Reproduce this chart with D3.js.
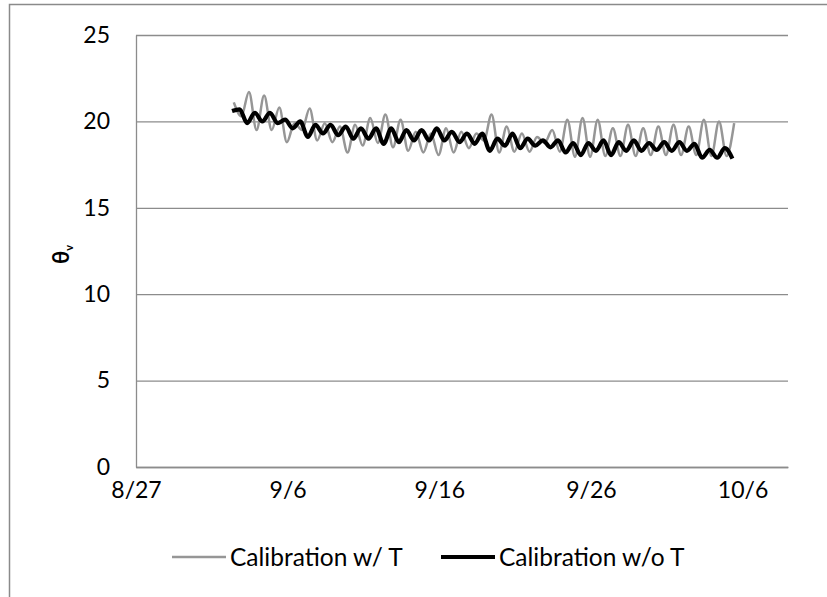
<!DOCTYPE html>
<html><head><meta charset="utf-8">
<script src="https://cdn.jsdelivr.net/npm/d3@7"></script>
<style>
body{margin:0;background:#fff;}
svg{display:block;}
text{font-family:Lato,"Noto Sans",sans-serif;fill:#000;}
</style>
</head><body>
<svg id="c" width="827" height="597"></svg>
<script>
// ---- data ----
const year = 2011;
const xTickLabels = ["8/27", "9/6", "9/16", "9/26", "10/6"];
const xAxisEnd = "10/9";
const yTicks = [0, 5, 10, 15, 20, 25];
const seriesNames = ["Calibration w/ T", "Calibration w/o T"];
// samples every 12 hours (alternating daily highs / lows)
const stepHours = 12;
const grayStart = "9/2 10:48";
const grayValues = [
  21.1, 20.3, 21.7, 19.5, 21.5, 19.5, 20.8, 18.8, 19.9, 19.5,
  20.75, 18.9, 19.9, 18.8, 19.7, 18.2, 19.8, 18.6, 20.2, 18.75,
  20.4, 18.5, 20.1, 18.3, 19.4, 18.2, 19.3, 18.05, 19.6, 18.2,
  19.4, 18.45, 19.3, 18.9, 20.4, 18.2, 19.7, 18.25, 19.3, 18.25,
  19.1, 18.75, 19.5, 18.25, 20.1, 17.95, 20.2, 17.95, 20.1, 18.0,
  19.6, 18.0, 19.8, 18.0, 19.6, 18.05, 19.7, 18.05, 19.8, 18.05,
  19.7, 18.05, 20.1, 18.0, 20.0, 18.0, 19.9
];
const blackStart = "9/2 08:00";
const blackValues = [
  20.6, 20.7, 19.9, 20.5, 20.0, 20.5, 19.9, 20.1, 19.6, 20.0,
  19.1, 19.8, 19.3, 19.8, 19.2, 19.7, 19.0, 19.6, 19.0, 19.6,
  18.7, 19.6, 18.8, 19.5, 18.9, 19.5, 18.9, 19.6, 18.9, 19.4,
  18.8, 19.3, 18.7, 19.3, 18.3, 19.0, 18.6, 19.3, 18.45, 19.0,
  18.6, 18.9, 18.5, 18.9, 18.2, 18.75, 18.05, 18.75, 18.3, 18.9,
  18.05, 18.8, 18.3, 18.9, 18.3, 18.75, 18.35, 18.8, 18.3, 18.8,
  18.3, 18.7, 17.9, 18.35, 17.9, 18.45, 17.85
];

// ---- chart ----
const parseDay = d3.timeParse("%Y/%m/%d");
const parseTime = d3.timeParse("%Y/%m/%d %H:%M");
const toDate = s => parseDay(year + "/" + s);
const toSeries = (start, vals) => {
  const t0 = parseTime(year + "/" + start);
  return vals.map((v, i) => ({ t: d3.timeHour.offset(t0, i * stepHours), v }));
};
const grayData = toSeries(grayStart, grayValues);
const blackData = toSeries(blackStart, blackValues);

const svg = d3.select("#c");
const L = 136, R = 788, T = 35, B = 467;
const gridColor = "#8c8c8c";

// outer chart border
svg.append("rect").attr("x", 9.5).attr("y", 4.5).attr("width", 840).attr("height", 620)
  .attr("fill", "none").attr("stroke", "#8a8a8a").attr("stroke-width", 1.5);

const x = d3.scaleTime().domain([toDate(xTickLabels[0]), toDate(xAxisEnd)]).range([L, R]);
const y = d3.scaleLinear().domain([0, 25]).range([B, T]);

// y axis + gridlines
const gy = svg.append("g").attr("transform", `translate(${L},0)`)
  .call(d3.axisLeft(y).tickValues(yTicks).tickSizeInner(-(R - L)).tickSizeOuter(0).tickPadding(26));
gy.selectAll(".tick line").attr("stroke", gridColor).attr("stroke-width", 1.3);
gy.select(".domain").attr("stroke", gridColor).attr("stroke-width", 1.3);
gy.selectAll(".tick text").attr("font-size", 23).attr("font-family", "Lato").attr("fill", "#000");

// x axis
const gx = svg.append("g").attr("transform", `translate(0,${B})`)
  .call(d3.axisBottom(x).tickValues(xTickLabels.map(toDate)).tickSize(0).tickPadding(15)
    .tickFormat(d3.timeFormat("%-m/%-d")));
gx.select(".domain").attr("stroke", gridColor).attr("stroke-width", 1.3);
gx.selectAll(".tick text").attr("font-size", 23).attr("font-family", "Lato").attr("fill", "#000");

// y axis title
const yt = svg.append("text").attr("transform", "translate(69,264) rotate(-90)")
  .attr("font-size", 22).attr("font-weight", "bold");
yt.append("tspan").text("θ");
yt.append("tspan").attr("font-size", 11).attr("dy", 4).text("v");

// lines
const line = d3.line().x(d => x(d.t)).y(d => y(d.v)).curve(d3.curveMonotoneX);
svg.append("path").datum(grayData).attr("d", line)
  .attr("fill", "none").attr("stroke", "#969696").attr("stroke-width", 2.5);
svg.append("path").datum(blackData).attr("d", line)
  .attr("fill", "none").attr("stroke", "#000").attr("stroke-width", 4.2);

// legend
const legend = [
  { name: seriesNames[0], x1: 172, x2: 226, color: "#969696", w: 2.5 },
  { name: seriesNames[1], x1: 441, x2: 495, color: "#000", w: 4.2 }
];
const lg = svg.append("g");
legend.forEach(d => {
  lg.append("line").attr("x1", d.x1).attr("x2", d.x2).attr("y1", 557).attr("y2", 557)
    .attr("stroke", d.color).attr("stroke-width", d.w);
  lg.append("text").attr("x", d.x2 + 4).attr("y", 557).attr("dy", "0.35em")
    .attr("font-size", 24.5).text(d.name);
});
</script>
</body></html>
